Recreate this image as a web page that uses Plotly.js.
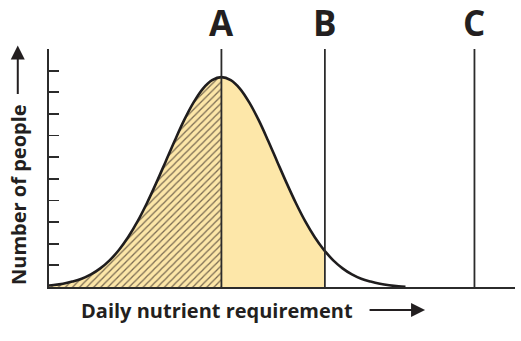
<!DOCTYPE html>
<html>
<head>
<meta charset="utf-8">
<script src="https://cdn.plot.ly/plotly-3.0.1.min.js"></script>
<style>html,body{margin:0;padding:0;background:#fff;}#chart{width:521px;height:341px;}</style>
</head>
<body>
<div id="chart"></div>
<script>
// Distribution curve (x: nutrient requirement, arbitrary units 0-100; y: number of people, tick units 0-11)
const curveX = [0, 1, 3, 5, 7, 9, 11, 13, 15, 17, 19, 21, 23, 25, 27, 29, 31, 33, 35, 37,
                39, 41, 43, 45, 47, 49, 51, 53, 55, 57, 59, 59.2, 61, 63, 65, 67, 69, 71, 73, 75, 76.5];
const curveY = [0.07, 0.09, 0.15, 0.25, 0.38, 0.58, 0.86, 1.23, 1.71, 2.31, 3.03, 3.87, 4.80, 5.78, 6.77, 7.71, 8.52, 9.16, 9.56, 9.70,
                9.56, 9.16, 8.52, 7.71, 6.77, 5.78, 4.80, 3.87, 3.03, 2.31, 1.71, 1.66, 1.23, 0.86, 0.58, 0.38, 0.25, 0.15, 0.08, 0.03, 0.01];
const markerNames = ['A', 'B', 'C'];
const markerX = [37, 59.2, 91.3];
const yTicks = [0, 1, 2, 3, 4, 5, 6, 7, 8, 9, 10, 11];
const xTitle = 'Daily nutrient requirement';
const yTitle = 'Number of people';

const xA = markerX[0], xB = markerX[1];
const segX1 = [], segY1 = [], segX2 = [], segY2 = [];
curveX.forEach((x, i) => {
  if (x <= xA) { segX1.push(x); segY1.push(curveY[i]); }
  if (x >= xA && x <= xB) { segX2.push(x); segY2.push(curveY[i]); }
});

const ink = '#2b2b2b';
const traces = [
  { x: segX1, y: segY1, type: 'scatter', mode: 'lines', line: { width: 0, shape: 'spline' },
    fill: 'tozeroy', fillcolor: '#fce6a8',
    fillpattern: { shape: '/', size: 5, solidity: 0.25, fgcolor: '#7a6b52', bgcolor: '#fce6a8' },
    hoverinfo: 'skip', showlegend: false },
  { x: segX2, y: segY2, type: 'scatter', mode: 'lines', line: { width: 0, shape: 'spline' },
    fill: 'tozeroy', fillcolor: '#fde7a9', hoverinfo: 'skip', showlegend: false },
  { x: curveX, y: curveY, type: 'scatter', mode: 'lines', line: { color: '#1f1d1e', width: 2.6, shape: 'spline' },
    showlegend: false, cliponaxis: false }
];
markerX.forEach((mx, i) => {
  traces.push({ x: [mx, mx], y: [0, i === 0 ? 11.2 : 11.3], type: 'scatter', mode: 'lines',
    line: { color: ink, width: 1.8 }, cliponaxis: false, showlegend: false, hoverinfo: 'skip' });
});

const annotations = markerNames.map((n, i) => ({
  x: markerX[i], xref: 'x', y: 1.113, yref: 'paper', text: n, showarrow: false,
  xanchor: 'center', yanchor: 'middle',
  font: { family: 'Open Sans, Liberation Sans, sans-serif', size: 35, color: '#231f20', weight: 'bold' }
}));
annotations.push({
  x: 0.064, xref: 'paper', y: -0.097, yref: 'paper', text: xTitle, showarrow: false,
  xanchor: 'left', yanchor: 'middle',
  font: { family: 'Open Sans, sans-serif', size: 20, color: '#231f20', weight: 'bold' }
});
annotations.push({
  x: 0.807, xref: 'paper', y: -0.097, yref: 'paper', text: '', showarrow: true,
  ax: -57, ay: 0, arrowhead: 2, arrowsize: 1.4, arrowwidth: 2, arrowcolor: '#231f20'
});
annotations.push({
  x: -0.067, xref: 'paper', y: 0.39, yref: 'paper', text: yTitle, showarrow: false,
  textangle: -90, xanchor: 'center', yanchor: 'middle',
  font: { family: 'Open Sans, sans-serif', size: 20, color: '#231f20', weight: 'bold' }
});
annotations.push({
  x: -0.067, xref: 'paper', y: 1.015, yref: 'paper', text: '', showarrow: true,
  ax: 0, ay: 50, arrowhead: 2, arrowsize: 1.4, arrowwidth: 2, arrowcolor: '#231f20'
});

const layout = {
  width: 521, height: 341,
  margin: { l: 49, r: 6, t: 49, b: 54 },
  paper_bgcolor: '#ffffff', plot_bgcolor: '#ffffff',
  showlegend: false,
  xaxis: { range: [0, 100], showgrid: false, zeroline: false, showline: true, linecolor: ink, linewidth: 2,
           ticks: '', showticklabels: false, fixedrange: true },
  yaxis: { range: [0, 11], showgrid: false, zeroline: false, showline: true, linecolor: ink, linewidth: 2,
           ticks: 'inside', ticklen: 10, tickwidth: 1.8, tickcolor: ink, tickmode: 'array', tickvals: yTicks,
           showticklabels: false, fixedrange: true },
  annotations: annotations
};

Plotly.newPlot('chart', traces, layout, { displayModeBar: false, staticPlot: true });
</script>
</body>
</html>
